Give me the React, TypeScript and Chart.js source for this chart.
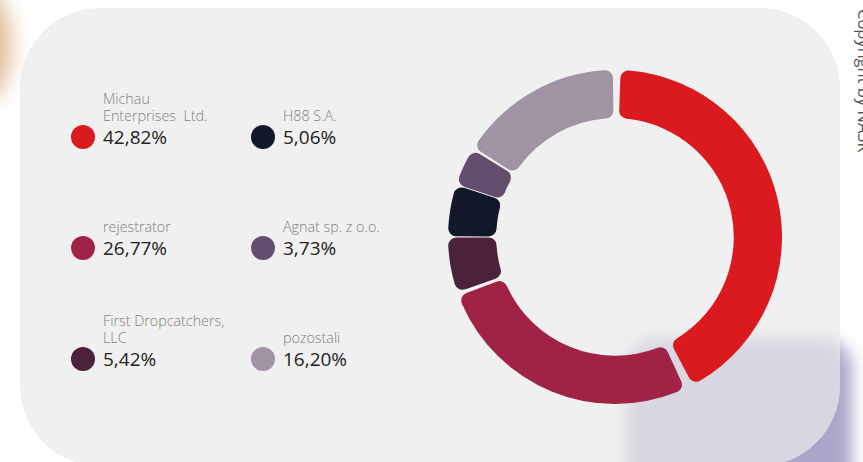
import React, { useEffect, useRef } from "react";
import { Chart, registerables } from "chart.js";

Chart.register(...registerables);

const labels = [
  "Michau Enterprises  Ltd.",
  "rejestrator",
  "First Dropcatchers, LLC",
  "H88 S.A.",
  "Agnat sp. z o.o.",
  "pozostali",
];
const values = [42.82, 26.77, 5.42, 5.06, 3.73, 16.2];
const valueTexts = ["42,82%", "26,77%", "5,42%", "5,06%", "3,73%", "16,20%"];
const colors = ["#da1a1f", "#a02346", "#4c223b", "#13172a", "#634e6e", "#a093a3"];
const labelLines = [
  ["Michau", "Enterprises\u00a0 Ltd."],
  ["rejestrator"],
  ["First Dropcatchers,", "LLC"],
  ["H88 S.A."],
  ["Agnat sp. z o.o."],
  ["pozostali"],
];
// legend grid: [column, row]
const legendCells = [
  [0, 0],
  [0, 1],
  [0, 2],
  [1, 0],
  [1, 1],
  [1, 2],
];
const colX = [83, 263];
const rowY = [137, 248, 359];

const FONT = "'Open Sans', 'Noto Sans', sans-serif";

export default function App() {
  const ref = useRef<HTMLCanvasElement | null>(null);

  useEffect(() => {
    if (!ref.current) return;
    const chart = new Chart(ref.current, {
      type: "doughnut",
      data: {
        labels,
        datasets: [
          {
            data: values,
            backgroundColor: colors,
            borderWidth: 0,
            borderRadius: 8,
            spacing: 7,
          },
        ],
      },
      options: {
        responsive: false,
        animation: false,
        cutout: "70.5%",
        layout: { padding: 0 },
        plugins: {
          legend: { display: false },
          tooltip: { enabled: false },
        },
      },
    });
    return () => chart.destroy();
  }, []);

  return (
    <div
      style={{
        position: "fixed",
        left: 0,
        top: 0,
        width: 863,
        height: 462,
        overflow: "hidden",
        background: "#ffffff",
        fontFamily: FONT,
      }}
    >
      {/* orange blurred blob */}
      <div
        style={{
          position: "absolute",
          left: -40,
          top: -10,
          width: 52,
          height: 110,
          borderRadius: "50%",
          background: "#e2c09c",
          filter: "blur(10px)",
        }}
      />
      {/* purple blurred blob */}
      <div
        style={{
          position: "absolute",
          left: 626,
          top: 338,
          width: 226,
          height: 190,
          borderRadius: 30,
          background: "#aaa6c9",
          filter: "blur(8px)",
        }}
      />
      {/* grey panel */}
      <div
        style={{
          position: "absolute",
          left: 20,
          top: 8,
          width: 820,
          height: 458,
          borderRadius: 80,
          background: "rgba(234,234,234,0.72)",
        }}
      />
      {/* copyright */}
      <div
        style={{
          position: "absolute",
          left: 853,
          top: 9,
          transformOrigin: "0 0",
          transform: "rotate(90deg) translateY(-100%)",
          fontSize: 16.5,
          color: "#555",
          whiteSpace: "nowrap",
          lineHeight: "22px",
        }}
      >
        Copyright by NASK
      </div>
      {/* legend */}
      {labels.map((l, i) => {
        const [c, r] = legendCells[i];
        const cx = colX[c];
        const cy = rowY[r];
        return (
          <React.Fragment key={l}>
            <div
              style={{
                position: "absolute",
                left: cx - 12,
                top: cy - 12,
                width: 24,
                height: 24,
                borderRadius: "50%",
                background: colors[i],
              }}
            />
            <div
              style={{
                position: "absolute",
                left: cx + 20,
                top: cy - 13,
                height: 26,
                width: 160,
              }}
            >
              <div
                style={{
                  position: "absolute",
                  left: 0,
                  bottom: "100%",
                  fontSize: 14.3,
                  lineHeight: "17px",
                  color: "#7f7f7f",
                  fontWeight: 300,
                  whiteSpace: "nowrap",
                }}
              >
                {labelLines[i].map((t, k) => (
                  <div key={k}>{t}</div>
                ))}
              </div>
              <div
                style={{
                  fontSize: 19,
                  lineHeight: "26px",
                  color: "#222",
                  fontWeight: 400,
                  whiteSpace: "nowrap",
                }}
              >
                {valueTexts[i]}
              </div>
            </div>
          </React.Fragment>
        );
      })}
      {/* chart */}
      <div style={{ position: "absolute", left: 448, top: 70, width: 334, height: 334 }}>
        <canvas ref={ref} width={334} height={334} />
      </div>
    </div>
  );
}
